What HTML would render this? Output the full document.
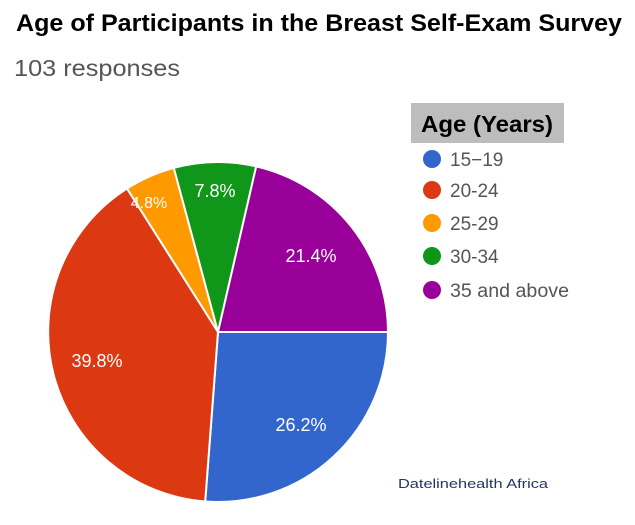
<!DOCTYPE html>
<html><head><meta charset="utf-8"><style>
body{margin:0;background:#fff;width:635px;height:520px;overflow:hidden;font-family:"Liberation Sans",Arial,sans-serif}
</style></head><body>
<svg width="635" height="520" xmlns="http://www.w3.org/2000/svg" font-family="Liberation Sans, Arial, sans-serif">
<text x="16" y="31" font-size="24" font-weight="bold" fill="#000" textLength="606" lengthAdjust="spacingAndGlyphs">Age of Participants in the Breast Self-Exam Survey</text>
<text x="14" y="76" font-size="23" fill="#555" textLength="166" lengthAdjust="spacingAndGlyphs">103 responses</text>
<g stroke="#fff" stroke-width="2">
<path d="M218,332 L388,332 A170,170 0 0,1 205.2,501.5 Z" fill="#3366cc"/>
<path d="M218,332 L205.2,501.5 A170,170 0 0,1 127.0,188.5 Z" fill="#dc3912"/>
<path d="M218,332 L127.0,188.5 A170,170 0 0,1 173.8,167.9 Z" fill="#ff9900"/>
<path d="M218,332 L173.8,167.9 A170,170 0 0,1 256.2,166.4 Z" fill="#109618"/>
<path d="M218,332 L256.2,166.4 A170,170 0 0,1 388,332 Z" fill="#990099"/>
</g>
<g font-size="18" fill="#fff" text-anchor="middle">
<text x="301" y="431">26.2%</text>
<text x="97" y="367">39.8%</text>
<text x="149" y="208" font-size="16">4.8%</text>
<text x="215" y="197">7.8%</text>
<text x="311" y="262">21.4%</text>
</g>
<rect x="411" y="103" width="153" height="40" fill="#bdbdbd"/>
<text x="421" y="132" font-size="23" font-weight="bold" fill="#000" textLength="132" lengthAdjust="spacingAndGlyphs">Age (Years)</text>
<g font-size="19" fill="#555">
<circle cx="432" cy="159" r="9" fill="#3366cc"/><text x="450" y="166">15−19</text>
<circle cx="432" cy="190" r="9" fill="#dc3912"/><text x="450" y="197">20-24</text>
<circle cx="432" cy="223" r="9" fill="#ff9900"/><text x="450" y="230">25-29</text>
<circle cx="432" cy="256" r="9" fill="#109618"/><text x="450" y="263">30-34</text>
<circle cx="432" cy="290" r="9" fill="#990099"/><text x="450" y="297" textLength="119" lengthAdjust="spacingAndGlyphs">35 and above</text>
</g>
<text x="398" y="488" font-size="13" fill="#1f3864" textLength="150" lengthAdjust="spacingAndGlyphs">Datelinehealth Africa</text>
</svg>
</body></html>
